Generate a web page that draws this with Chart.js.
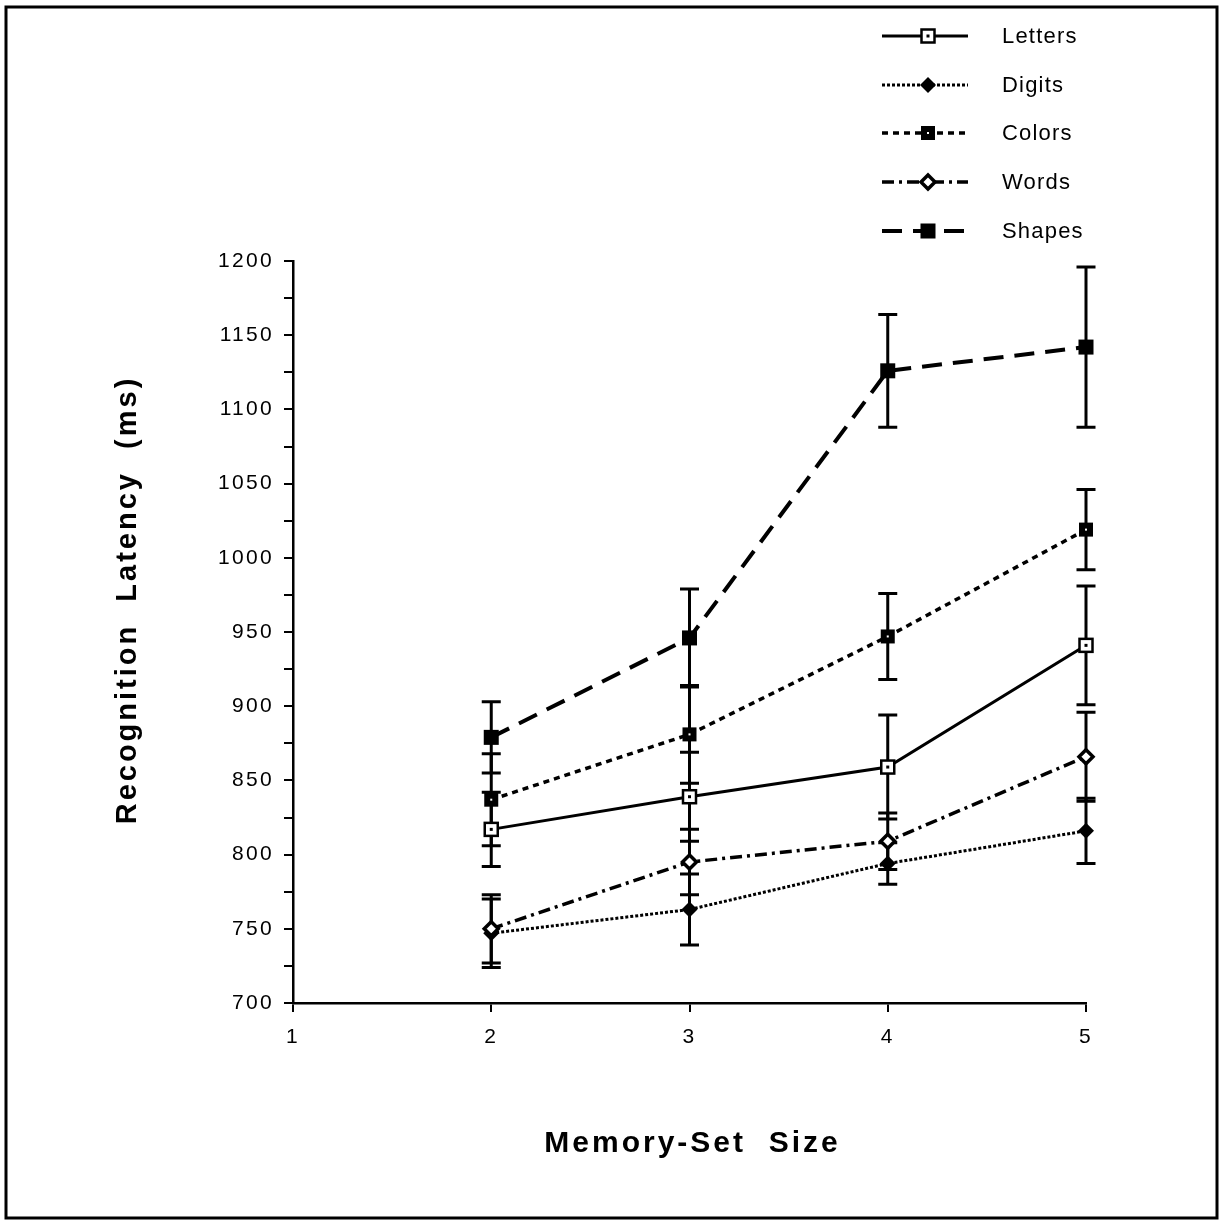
<!DOCTYPE html>
<html><head><meta charset="utf-8">
<script src="https://cdn.jsdelivr.net/npm/chart.js@4.4.1/dist/chart.umd.min.js"></script>
<style>html,body{margin:0;padding:0;background:#fff}#wrap{width:1222px;height:1224px}</style>
</head><body><div id="wrap"><canvas id="c" width="1222" height="1224"></canvas></div>
<script>
const memorySetSizes = [2, 3, 4, 5];
const seriesNames = ['Letters', 'Digits', 'Colors', 'Words', 'Shapes'];
const letters = [817, 839, 859, 941];
const lettersErr = [25, 30, 35, 40];
const digits = [747, 763, 794, 816];
const digitsErr = [23, 24, 14, 22];
const colors = [837, 881, 947, 1019];
const colorsErr = [31, 33, 29, 27];
const words = [750, 795, 809, 866];
const wordsErr = [23, 22, 19, 30];
const shapes = [879, 946, 1126, 1142];
const shapesErr = [24, 33, 38, 54];
const xMin = 1, xMax = 5, xStep = 1;
const yMin = 700, yMax = 1200, yLabelStep = 50, yMinorStep = 25;
const xTitle = 'Memory-Set  Size';
const yTitle = 'Recognition  Latency  (ms)';

const FONT = '"Liberation Sans", Arial, Helvetica, sans-serif';
const styles = {
  Letters: {dash: [], width: 3},
  Digits: {dash: [3, 2], width: 3},
  Colors: {dash: [6, 5], width: 3.5},
  Words: {dash: [12, 5, 3, 5], width: 3.5},
  Shapes: {dash: [20, 11], width: 4}
};
const valuesByName = {Letters: letters, Digits: digits, Colors: colors, Words: words, Shapes: shapes};
const errByName = {Letters: lettersErr, Digits: digitsErr, Colors: colorsErr, Words: wordsErr, Shapes: shapesErr};

function drawMarker(ctx, name, x, y) {
  ctx.save();
  ctx.setLineDash([]);
  ctx.strokeStyle = '#000';
  ctx.fillStyle = '#000';
  if (name === 'Letters') {
    ctx.fillStyle = '#fff';
    ctx.fillRect(x - 6.5, y - 6.5, 13, 13);
    ctx.lineWidth = 2.5;
    ctx.strokeRect(x - 6.5, y - 6.5, 13, 13);
    ctx.fillStyle = '#000';
    ctx.fillRect(x - 1.5, y - 1.5, 3, 3);
  } else if (name === 'Digits') {
    ctx.beginPath();
    ctx.moveTo(x, y - 8); ctx.lineTo(x + 8, y); ctx.lineTo(x, y + 8); ctx.lineTo(x - 8, y); ctx.closePath();
    ctx.fill();
  } else if (name === 'Colors') {
    ctx.fillRect(x - 7, y - 7, 14, 14);
    ctx.fillStyle = '#fff';
    ctx.fillRect(x - 1, y - 1, 2, 2);
  } else if (name === 'Words') {
    ctx.beginPath();
    ctx.moveTo(x, y - 7); ctx.lineTo(x + 7, y); ctx.lineTo(x, y + 7); ctx.lineTo(x - 7, y); ctx.closePath();
    ctx.fillStyle = '#fff';
    ctx.fill();
    ctx.lineWidth = 3.5;
    ctx.stroke();
  } else if (name === 'Shapes') {
    ctx.fillRect(x - 7.5, y - 7.5, 15, 15);
  }
  ctx.restore();
}

const decor = {
  id: 'decor',
  beforeDraw(chart) {
    const ctx = chart.ctx;
    ctx.save();
    ctx.fillStyle = '#fff';
    ctx.fillRect(0, 0, chart.width, chart.height);
    ctx.strokeStyle = '#000';
    ctx.lineWidth = 3;
    ctx.strokeRect(6, 7, 1211, 1211);
    ctx.restore();
    ctx.letterSpacing = '2.3px';
  },
  beforeDatasetsDraw(chart) {
    const ctx = chart.ctx;
    const ys = chart.scales.y;
    ctx.save();
    ctx.strokeStyle = '#000';
    ctx.lineWidth = 3;
    ctx.setLineDash([]);
    chart.data.datasets.forEach((ds, di) => {
      const meta = chart.getDatasetMeta(di);
      const errs = errByName[ds.label];
      meta.data.forEach((pt, i) => {
        const v = ds.data[i].y;
        const top = ys.getPixelForValue(v + errs[i]);
        const bot = ys.getPixelForValue(v - errs[i]);
        ctx.beginPath();
        ctx.moveTo(pt.x, top); ctx.lineTo(pt.x, bot);
        ctx.moveTo(pt.x - 9.5, top); ctx.lineTo(pt.x + 9.5, top);
        ctx.moveTo(pt.x - 9.5, bot); ctx.lineTo(pt.x + 9.5, bot);
        ctx.stroke();
      });
    });
    ctx.restore();
  },
  afterDatasetsDraw(chart) {
    const ctx = chart.ctx;
    const ca = chart.chartArea;
    chart.data.datasets.forEach((ds, di) => {
      const meta = chart.getDatasetMeta(di);
      meta.data.forEach(pt => drawMarker(ctx, ds.label, pt.x, pt.y));
    });
    // legend
    ctx.save();
    const rowY = [36, 85, 133, 182, 231];
    seriesNames.forEach((name, i) => {
      const y = rowY[i];
      ctx.strokeStyle = '#000';
      ctx.lineWidth = styles[name].width;
      ctx.setLineDash(styles[name].dash);
      ctx.beginPath();
      ctx.moveTo(882, y); ctx.lineTo(968, y);
      ctx.stroke();
      drawMarker(ctx, name, 928, y);
      ctx.setLineDash([]);
      ctx.fillStyle = '#000';
      ctx.font = '22px ' + FONT;
      ctx.letterSpacing = '1.2px';
      ctx.textAlign = 'left';
      ctx.textBaseline = 'middle';
      ctx.fillText(name, 1002, y + 1);
    });
    // axis titles
    ctx.font = 'bold 30px ' + FONT;
    ctx.letterSpacing = '3px';
    ctx.textAlign = 'center';
    ctx.textBaseline = 'middle';
    ctx.fillText(xTitle, (ca.left + ca.right) / 2 + 3, ca.bottom + 141);
    ctx.font = 'bold 29px ' + FONT;
    ctx.translate(ca.left - 165, ca.top + 339);
    ctx.rotate(-Math.PI / 2);
    ctx.fillText(yTitle, 0, 0);
    ctx.restore();
  }
};

function series(name) {
  return {
    label: name,
    data: memorySetSizes.map((x, i) => ({x: x, y: valuesByName[name][i]})),
    borderColor: '#000',
    backgroundColor: '#000',
    borderWidth: styles[name].width,
    borderDash: styles[name].dash,
    pointRadius: 0,
    pointHoverRadius: 0,
    tension: 0,
    fill: false
  };
}

new Chart(document.getElementById('c'), {
  type: 'line',
  data: {datasets: seriesNames.map(series)},
  options: {
    responsive: false,
    animation: false,
    events: [],
    layout: {padding: {left: 193, right: 136, top: 261, bottom: 161}},
    plugins: {legend: {display: false}, tooltip: {enabled: false}, title: {display: false}},
    scales: {
      x: {
        type: 'linear', min: xMin, max: xMax,
        afterFit: s => { s.height = 60; },
        border: {display: true, color: '#000', width: 2.5},
        grid: {drawOnChartArea: false, drawTicks: true, tickLength: 9, color: '#000', lineWidth: 2},
        ticks: {stepSize: xStep, color: '#000', font: {family: FONT, size: 21}, padding: 13, maxRotation: 0}
      },
      y: {
        type: 'linear', min: yMin, max: yMax,
        afterFit: s => { s.width = 100; },
        border: {display: true, color: '#000', width: 2.5},
        grid: {drawOnChartArea: false, drawTicks: true, tickLength: 9, color: '#000', lineWidth: 2},
        ticks: {
          stepSize: yMinorStep, autoSkip: false, color: '#000',
          font: {family: FONT, size: 21}, padding: 10,
          callback: v => (v % yLabelStep === 0 ? String(v) : '')
        }
      }
    }
  },
  plugins: [decor]
});
</script>
</body></html>
